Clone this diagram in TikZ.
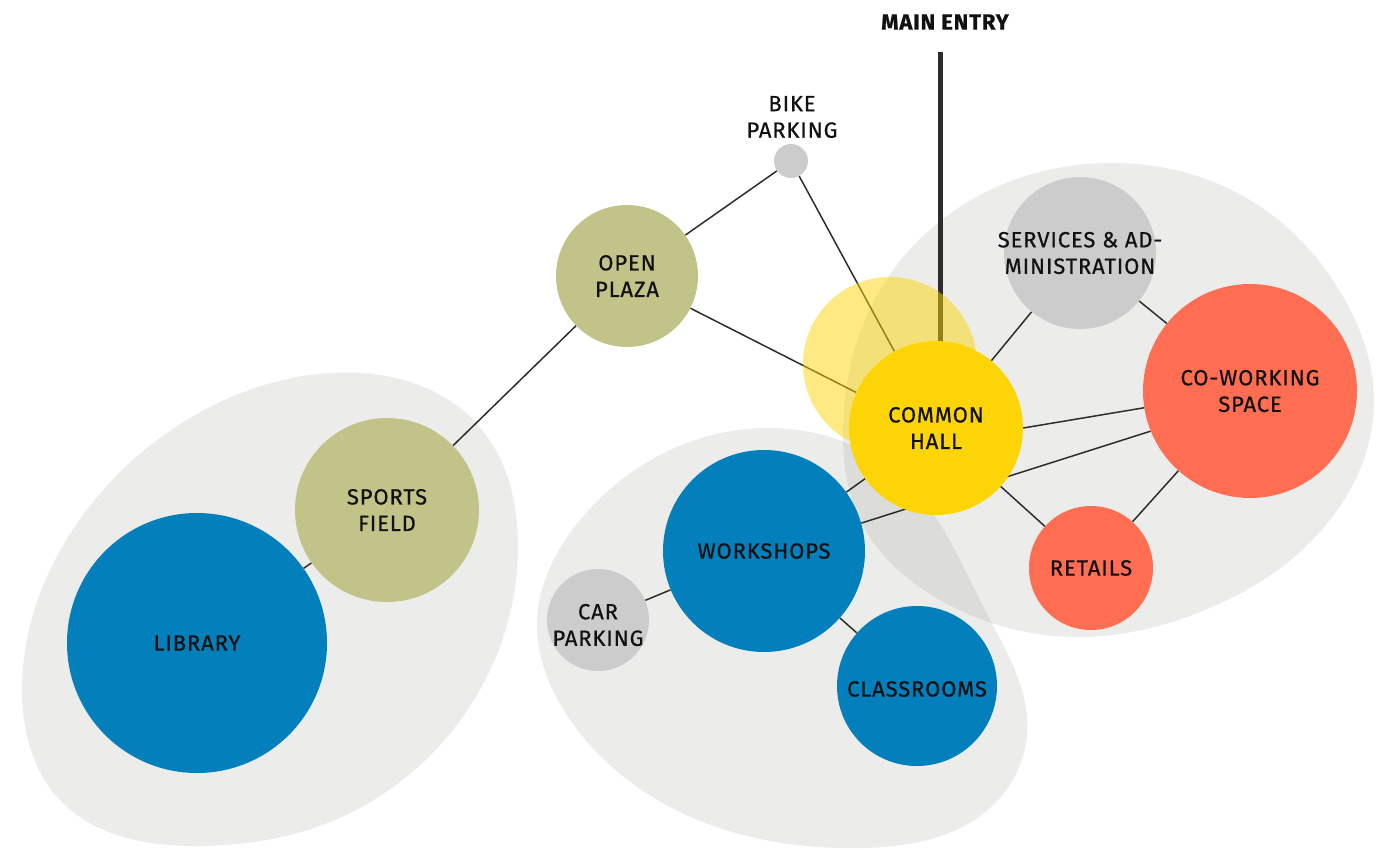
\documentclass[tikz,border=0pt]{standalone}
\usepackage{fontspec}
\setmainfont{Fira Sans}[LetterSpace=4, FakeBold=0.6]
\usetikzlibrary{hobby}
\definecolor{blobc}{RGB}{18,18,0}
\definecolor{linec}{RGB}{45,45,42}
\definecolor{textc}{RGB}{17,17,17}
\definecolor{blueC}{RGB}{3,127,188}
\definecolor{oliveC}{RGB}{194,195,136}
\definecolor{yellowC}{RGB}{253,212,6}
\definecolor{coralC}{RGB}{255,110,82}
\definecolor{grayC}{RGB}{204,204,204}
\begin{document}
\begin{tikzpicture}[x=1pt,y=-1pt,
  blob/.style={fill=blobc, fill opacity=0.08, draw=none, use Hobby shortcut, closed=true},
  link/.style={draw=linec, line width=1.5pt},
  bub/.style={circle, inner sep=0pt, draw=none, minimum size=#1},
  lab/.style={align=center, text=textc, inner sep=0pt,
    font=\fontsize{22}{26.5}\selectfont}
]
\useasboundingbox (0,0) rectangle (1390,849);

% background groups
\fill[blob] (330,373) .. (478,425) .. (518,545) .. (462,718) .. (330,822) .. (200,846) .. (60,800) .. (22,690) .. (78,522) .. (190,418);
\fill[blob] (765,428) .. (905,480) .. (985,610) .. (1027,735) .. (990,808) .. (860,848) .. (680,812) .. (565,712) .. (537,625) .. (580,520) .. (660,455);
\fill[blob] (1105,163) .. (1250,200) .. (1345,300) .. (1374,400) .. (1330,520) .. (1200,612) .. (1075,637) .. (940,600) .. (860,520) .. (843,430) .. (880,290) .. (980,195);

% node coordinates (shapes drawn later)
\path
  (791,161) node[bub=34] (bike) {}
  (627,276) node[bub=142] (op) {}
  (387,510) node[bub=184] (sf) {}
  (197,643) node[bub=260] (lib) {}
  (890,364) node[bub=174] (glow) {}
  (936,428) node[bub=174] (ch) {}
  (1080,253) node[bub=152] (sv) {}
  (1250,391) node[bub=214] (cw) {}
  (1091,568) node[bub=124] (rt) {}
  (764,551) node[bub=202] (ws) {}
  (598,620) node[bub=102] (car) {}
  (917,686) node[bub=160] (cls) {};
\coordinate (metop) at (940,52);

% connectors
\draw[link] (bike) -- (op);
\draw[link] (bike) -- (ch);
\draw[link] (op) -- (ch.156);
\draw[link] (op) -- (sf);
\draw[link] (sf) -- (lib);
\draw[link] (ch) -- (sv);
\draw[link] (sv) -- (cw);
\draw[link] (ch.0) -- (cw.189);
\draw[link] (ws.16) -- (cw.202);
\draw[link] (ch) -- (ws);
\draw[link] (ch) -- (rt);
\draw[link] (cw) -- (rt);
\draw[link] (ws) -- (car);
\draw[link] (ws) -- (cls);
\draw[draw=linec, line width=5pt] (metop) -- (metop |- ch.center);

% circles
\fill[yellowC, fill opacity=0.5] (glow.center) circle[radius=87];
\fill[grayC] (bike.center) circle[radius=17];
\fill[oliveC] (op.center) circle[radius=71];
\fill[oliveC] (sf.center) circle[radius=92];
\fill[blueC] (lib.center) circle[radius=130];
\fill[yellowC] (ch.center) circle[radius=87];
\fill[grayC] (sv.center) circle[radius=76];
\fill[coralC] (cw.center) circle[radius=107];
\fill[coralC] (rt.center) circle[radius=62];
\fill[blueC] (ws.center) circle[radius=101];
\fill[grayC] (car.center) circle[radius=51];
\fill[blueC] (cls.center) circle[radius=80];

% labels
\node[lab, font=\fontsize{22}{26.5}\selectfont\bfseries] (melab) at (945,22) {MAIN ENTRY};
\node[lab] (bikelab) at (792,117) {BIKE\\PARKING};
\node[lab] (oplab) at (op) {OPEN\\PLAZA};
\node[lab] (sflab) at (sf) {SPORTS\\FIELD};
\node[lab] (liblab) at (lib) {LIBRARY};
\node[lab] (chlab) at (ch) {COMMON\\HALL};
\node[lab] (svlab) at (sv) {SERVICES \& AD-\\MINISTRATION};
\node[lab] (cwlab) at (cw) {CO-WORKING\\SPACE};
\node[lab] (rtlab) at (rt) {RETAILS};
\node[lab] (wslab) at (ws) {WORKSHOPS};
\node[lab] (carlab) at ([yshift=-5pt]car.center) {CAR\\PARKING};
\node[lab] (clslab) at ([yshift=-3pt]cls.center) {CLASSROOMS};
\end{tikzpicture}
\end{document}
